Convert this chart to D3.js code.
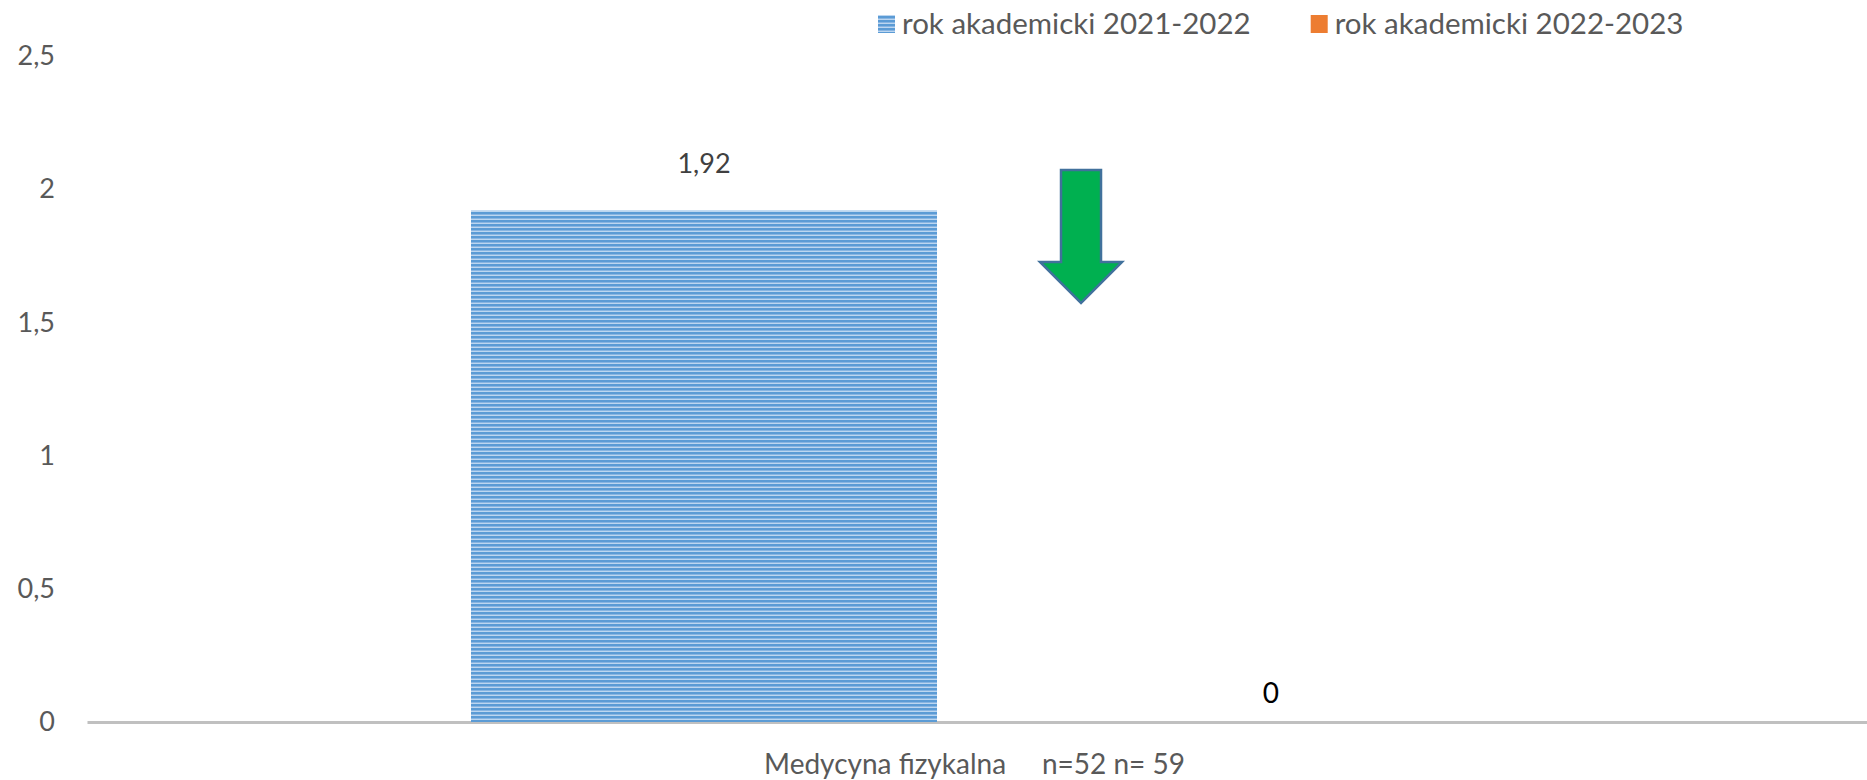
<!DOCTYPE html>
<html>
<head>
<meta charset="utf-8">
<script src="https://cdn.jsdelivr.net/npm/d3@7"></script>
<style>
  body { margin: 0; background: #fff; }
  svg { display: block; font-family: Lato, "Open Sans", sans-serif; }
</style>
</head>
<body>
<div id="container"></div>
<script>
const width = 1867;
const height = 780;

// ---- data ----
const categories = ["Medycyna fizykalna     n=52 n= 59"];
const seriesNames = ["rok akademicki 2021-2022", "rok akademicki 2022-2023"];
const seriesValues = [[1.92], [0]];
const yTicks = [0, 0.5, 1, 1.5, 2, 2.5];

const seriesFill = ["url(#stripes)", "#ed7d31"];
const labelColor = ["#404040", "#000000"];
const labelGap = [38, 19];

const pl = d3.formatLocale({decimal: ",", thousands: " ", grouping: [3], currency: ["", " zł"]});
const fmt = pl.format("~g");

const margin = {left: 87, right: -15, top: 56, bottom: 58};

const svg = d3.select("#container").append("svg")
  .attr("width", width)
  .attr("height", height);

// stripe pattern for first series
const defs = svg.append("defs");
const pat = defs.append("pattern")
  .attr("id", "stripes")
  .attr("patternUnits", "userSpaceOnUse")
  .attr("width", 8).attr("height", 4);
pat.append("rect").attr("width", 8).attr("height", 4).attr("fill", "#bcd6f0");
pat.append("rect").attr("y", 0).attr("width", 8).attr("height", 2).attr("fill", "#5b9bd5");
pat.append("rect").attr("y", 2).attr("width", 8).attr("height", 1).attr("fill", "#88b5e2");

//----------------------------SCALES----------------------------//
const x0 = d3.scaleBand()
  .domain(categories)
  .range([margin.left, width - margin.right])
  .paddingOuter(0.3739)
  .paddingInner(0);

const x1 = d3.scaleBand()
  .domain(d3.range(seriesNames.length))
  .range([0, x0.bandwidth()])
  .paddingInner(0.1693)
  .paddingOuter(0);

const y = d3.scaleLinear()
  .domain([0, 2.5])
  .range([height - margin.bottom, margin.top]);

//-----------------------------AXES-----------------------------//
const yAxis = svg.append("g")
  .attr("transform", "translate(" + margin.left + ",0)")
  .call(d3.axisLeft(y).tickValues(yTicks).tickFormat(fmt).tickSize(0).tickPadding(32));
yAxis.select(".domain").remove();
yAxis.selectAll("text")
  .attr("font-family", "Lato, sans-serif")
  .attr("font-size", 27)
  .attr("fill", "#595959");

const xAxis = svg.append("g")
  .attr("transform", "translate(0," + y(0) + ")")
  .call(d3.axisBottom(x0).tickSize(0).tickSizeOuter(0).tickPadding(32));
xAxis.select(".domain")
  .attr("stroke", "#c0c0c0")
  .attr("stroke-width", 3);
xAxis.selectAll("text")
  .attr("font-family", "Lato, sans-serif")
  .attr("font-size", 28)
  .attr("fill", "#595959")
  .attr("dx", -10)
  .style("white-space", "pre");

//----------------------------BARS------------------------------//
const rows = categories.map((c, ci) => ({
  cat: c,
  vals: seriesValues.map((s, si) => ({si: si, v: s[ci]}))
}));

const groups = svg.append("g").selectAll("g")
  .data(rows)
  .enter().append("g")
  .attr("transform", d => "translate(" + x0(d.cat) + ",0)");

groups.selectAll("rect")
  .data(d => d.vals)
  .enter().append("rect")
  .attr("x", d => x1(d.si))
  .attr("width", x1.bandwidth())
  .attr("y", d => y(d.v))
  .attr("height", d => y(0) - y(d.v))
  .attr("fill", d => seriesFill[d.si]);

groups.selectAll("text.lbl")
  .data(d => d.vals)
  .enter().append("text")
  .attr("class", "lbl")
  .attr("x", d => x1(d.si) + x1.bandwidth() / 2)
  .attr("y", d => y(d.v) - labelGap[d.si])
  .attr("dx", d => d.si === 0 ? 0 : 6)
  .attr("text-anchor", "middle")
  .attr("font-size", d => d.si === 0 ? 27 : 28)
  .attr("fill", d => labelColor[d.si])
  .text(d => fmt(d.v));

//----------------------------ARROW-----------------------------//
const ax = x0(categories[0]) + x1(0) + x1.bandwidth() + 144;
const aTop = y(2.072), aBase = y(1.727), aTip = y(1.573);
const shaft = 20, head = 41;
svg.append("path")
  .attr("d", d3.line()([
    [ax - shaft, aTop], [ax + shaft, aTop], [ax + shaft, aBase], [ax + head, aBase],
    [ax, aTip], [ax - head, aBase], [ax - shaft, aBase]
  ]) + "Z")
  .attr("fill", "#00b050")
  .attr("stroke", "#41719c")
  .attr("stroke-width", 2.5)
  .attr("stroke-linejoin", "miter");

//----------------------------LEGEND----------------------------//
const legend = svg.append("g");
let lx = 878;
seriesNames.forEach((name, i) => {
  legend.append("rect")
    .attr("x", lx).attr("y", 15)
    .attr("width", 17).attr("height", 18)
    .attr("fill", seriesFill[i]);
  const t = legend.append("text")
    .attr("x", lx + 24).attr("y", 34)
    .attr("font-size", 29.5)
    .attr("fill", "#595959")
    .text(name);
  lx += 24 + t.node().getComputedTextLength() + 60;
});
</script>
</body>
</html>
